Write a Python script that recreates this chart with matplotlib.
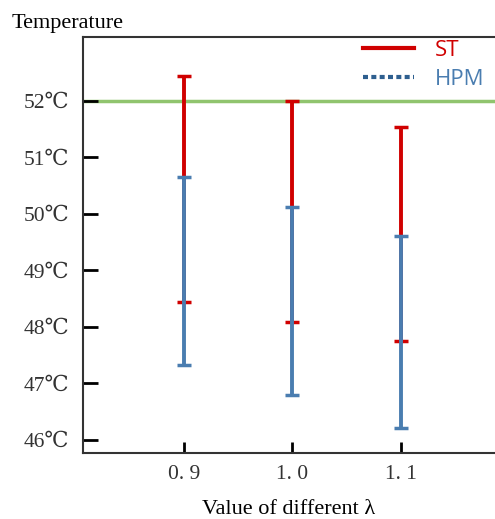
import matplotlib
matplotlib.use("Agg")
import matplotlib.pyplot as plt
from matplotlib.lines import Line2D

# values
lam = [0.9, 1.0, 1.1]
lam_labels = ["0. 9", "1. 0", "1. 1"]
st_low = [48.45, 48.09, 47.76]
st_high = [52.44, 52.0, 51.54]
hpm_low = [47.33, 46.79, 46.21]
hpm_high = [50.66, 50.12, 49.61]
limit_temp = 52
y_ticks = [46, 47, 48, 49, 50, 51, 52]

red = "#d00000"
blue = "#4a7db0"
green = "#90c46e"
serif = ["Liberation Serif", "DejaVu Serif"]

fig = plt.figure(figsize=(4.95, 5.19), dpi=100)
ax = fig.add_axes([0.1677, 0.1272, 0.8323, 0.8015])

# green limit line
ax.axhline(limit_temp, color=green, lw=2.5, zorder=1)

# ST ranges (red)
st_mid = [(a + b) / 2 for a, b in zip(st_low, st_high)]
st_err = [(b - a) / 2 for a, b in zip(st_low, st_high)]
ax.errorbar(lam, st_mid, yerr=st_err, fmt="none", ecolor=red, elinewidth=2.8,
            capsize=5, capthick=2.5, zorder=2)

# HPM ranges (blue)
hpm_mid = [(a + b) / 2 for a, b in zip(hpm_low, hpm_high)]
hpm_err = [(b - a) / 2 for a, b in zip(hpm_low, hpm_high)]
ax.errorbar(lam, hpm_mid, yerr=hpm_err, fmt="none", ecolor=blue, elinewidth=2.8,
            capsize=5, capthick=2.5, zorder=3)

ax.set_xlim(0.807, 1.187)
ax.set_ylim(45.77, 53.13)

ax.set_xticks(lam)
ax.set_xticklabels(lam_labels, family=serif, fontsize=15.5, color="#333333")
ax.set_yticks(y_ticks)
ax.set_yticklabels([f"{t}\u2103" for t in y_ticks], family=serif, fontsize=15.5,
                   color="#333333")
ax.tick_params(axis="y", direction="in", length=11, width=2, pad=10)
ax.tick_params(axis="x", direction="in", length=8, width=2, pad=9)

for s in ["left", "bottom", "top"]:
    ax.spines[s].set_linewidth(1.5)
    ax.spines[s].set_color("#333333")
ax.spines["right"].set_visible(False)

fig.text(0.024, 0.955, "Temperature", family=serif, fontsize=16, va="center")
ax.set_xlabel("Value of different \u03bb", family=serif, fontsize=16, labelpad=11)

handles = [Line2D([], [], color=red, lw=3),
           Line2D([], [], color="#2e5f8f", lw=3, ls=(0, (1.2, 0.8)))]
leg = ax.legend(handles, ["ST", "HPM"], loc="upper right", frameon=False,
                prop={"family": "Open Sans", "size": 16}, handlelength=2.3,
                handletextpad=0.9, labelspacing=0.35, borderpad=0,
                bbox_to_anchor=(1.0, 1.02))
leg.get_texts()[0].set_color(red)
leg.get_texts()[1].set_color(blue)

fig.savefig("out.png", dpi=100)
